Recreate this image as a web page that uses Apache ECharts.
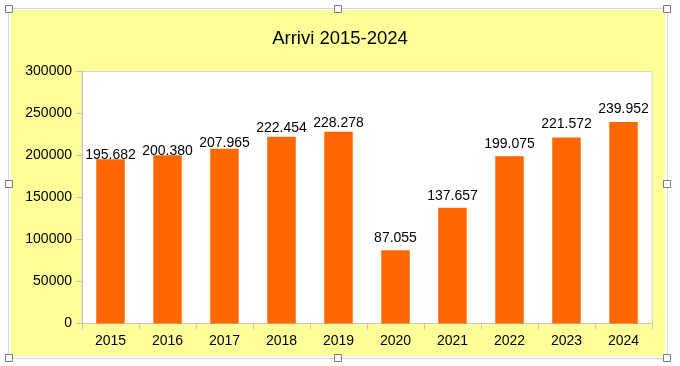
<!DOCTYPE html>
<html>
<head>
<meta charset="utf-8">
<script src="https://cdn.jsdelivr.net/npm/echarts@6/dist/echarts.min.js"></script>
<style>
html,body{margin:0;padding:0;background:#fff;}
#c{width:680px;height:366px;}
</style>
</head>
<body>
<div id="c"></div>
<script>
const titleText = 'Arrivi 2015-2024';
const years = ['2015','2016','2017','2018','2019','2020','2021','2022','2023','2024'];
const arrivi = [195682, 200380, 207965, 222454, 228278, 87055, 137657, 199075, 221572, 239952];
const yTicks = [0, 50000, 100000, 150000, 200000, 250000, 300000];

// label spacing (style only)
const labelGaps = [-3, -3, -1, 1.5, 2, 5, 5, 5, 6, 6];

const fmt = v => String(v).replace(/\B(?=(\d{3})+(?!\d))/g, '.');
const FONT = 'Liberation Sans, Arial, sans-serif';

const chart = echarts.init(document.getElementById('c'), null, {renderer:'canvas'});

const handlePts = [[9,9],[338,9],[667,9],[9,184],[667,184],[9,358],[338,358],[667,358]];
const graphics = [
  {type:'rect', z:-20, shape:{x:8.5,y:8.5,width:659,height:350}, style:{fill:'#fff', stroke:'#d6d6d6', lineWidth:1}},
  {type:'rect', z:-19, shape:{x:11,y:10,width:654,height:346}, style:{fill:'#FFFF99'}}
].concat(handlePts.map(p => ({
  type:'rect', z:100, shape:{x:p[0]-3.5, y:p[1]-3.5, width:7, height:7},
  style:{fill:'#fff', stroke:'#7a7a7a', lineWidth:1}
})));

chart.setOption({
  animation:false,
  backgroundColor:'#fff',
  textStyle:{fontFamily:FONT},
  title:{
    text:titleText, left:'center', top:24,
    textStyle:{fontFamily:FONT, fontSize:18.5, fontWeight:'normal', color:'#000'}
  },
  graphic: graphics,
  grid:{
    left:82, right:28, top:71.5, bottom:42.5,
    show:true, backgroundColor:'#fff', borderColor:'#d6d6d6', borderWidth:1
  },
  xAxis:{
    type:'category', data:years, boundaryGap:true,
    axisLine:{show:true, lineStyle:{color:'#c4c4c4', width:1}},
    axisTick:{show:true, alignWithLabel:false, length:6, lineStyle:{color:'#c4c4c4'}},
    axisLabel:{color:'#000', fontSize:14, fontFamily:FONT, margin:11, interval:0}
  },
  yAxis:{
    type:'value', min:yTicks[0], max:yTicks[yTicks.length-1], interval:yTicks[1]-yTicks[0],
    axisLine:{show:true, lineStyle:{color:'#c4c4c4', width:1}},
    axisTick:{show:true, length:6, lineStyle:{color:'#c4c4c4'}},
    splitLine:{show:false},
    axisLabel:{color:'#000', fontSize:14, fontFamily:FONT, margin:10, formatter: v => String(v)}
  },
  series:[{
    type:'bar', barWidth:'50%',
    itemStyle:{color:'#FF6600'},
    data: arrivi.map((v,i) => ({value:v, label:{distance:labelGaps[i]}})),
    label:{
      show:true, position:'top', color:'#000', fontSize:14, fontFamily:FONT,
      formatter: p => fmt(p.value)
    }
  }]
});
</script>
</body>
</html>
